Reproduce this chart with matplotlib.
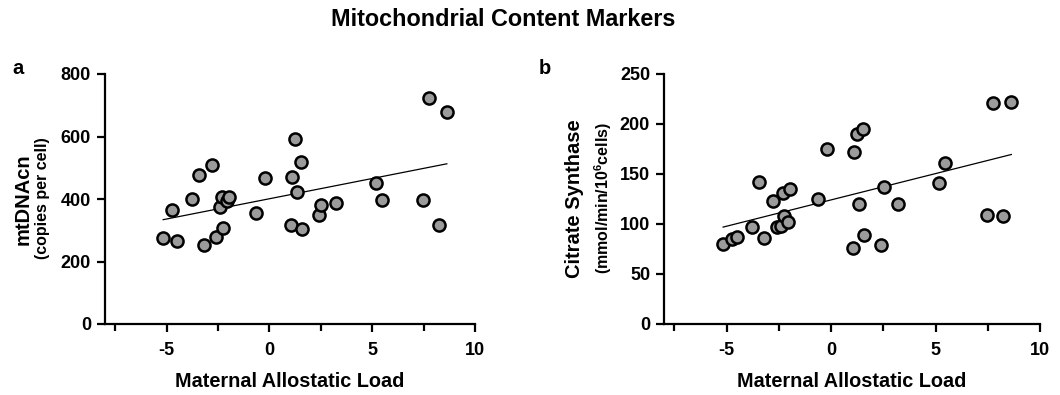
import numpy as np
import matplotlib
matplotlib.use("Agg")
import matplotlib.pyplot as plt
from matplotlib.ticker import MultipleLocator, FixedLocator

plt.rcParams['font.family'] = ['Liberation Sans', 'DejaVu Sans']
plt.rcParams['font.weight'] = 'bold'
plt.rcParams['axes.unicode_minus'] = False
plt.rcParams['mathtext.fontset'] = 'custom'
plt.rcParams['mathtext.bf'] = 'Liberation Sans:bold'
plt.rcParams['mathtext.rm'] = 'Liberation Sans:bold'

# Maternal Allostatic Load (shared x)
allostatic_load = [-5.17, -4.75, -4.50, -3.79, -3.43, -3.20, -2.80, -2.60, -2.40, -2.30,
                   -2.27, -2.08, -1.98, -0.65, -0.22, 1.03, 1.11, 1.22, 1.35, 1.52,
                   1.59, 2.39, 2.53, 3.22, 5.16, 5.46, 7.46, 7.77, 8.25, 8.63]
# mtDNAcn (copies per cell)
mtdnacn = [276, 365, 266, 401, 477, 253, 509, 279, 375, 407,
           306, 395, 406, 354, 468, 317, 470, 591, 422, 517,
           305, 348, 382, 388, 450, 398, 397, 723, 317, 677]
# Citrate synthase (mmol/min/10^6 cells)
citrate_synthase = [79.7, 85.3, 87.3, 96.7, 141.7, 85.7, 123.3, 97.3, 98.0, 131.3,
                    108.3, 102.3, 134.7, 125.0, 174.7, 75.7, 172.3, 189.7, 120.0, 194.7,
                    89.0, 79.0, 136.7, 120.0, 140.7, 160.7, 109.0, 221.3, 108.0, 222.3]

title = "Mitochondrial Content Markers"
xlabel = "Maternal Allostatic Load"
xticks_major = [-5, 0, 5, 10]
xticks_minor = [-7.5, -2.5, 2.5, 7.5]

fig = plt.figure(figsize=(10.6, 3.95), dpi=100)
W, H = 1060, 395

def make_axes(left_px, right_px):
    return fig.add_axes([left_px / W, 1 - 324 / H, (right_px - left_px) / W, (324 - 74) / H])

panels = [
    dict(ax=make_axes(105, 475), y=mtdnacn, ylim=(0, 800), ystep=200,
         lab1="mtDNAcn", lab2="(copies per cell)", lab1_x=23, lab2_x=43,
         letter="a", letter_x=18),
    dict(ax=make_axes(664, 1040), y=citrate_synthase, ylim=(0, 250), ystep=50,
         lab1="Citrate Synthase", lab2=r"(mmol/min/10$^{6}$cells)", lab1_x=575, lab2_x=603,
         letter="b", letter_x=545),
]

x = np.array(allostatic_load)
for p in panels:
    ax = p['ax']
    y = np.array(p['y'])
    ax.scatter(x, y, s=76, facecolor='#9b9b9b', edgecolor='black', linewidths=1.8,
               zorder=3, clip_on=False)
    slope, intercept = np.polyfit(x, y, 1)
    xx = np.array([x.min(), x.max()])
    ax.plot(xx, slope * xx + intercept, color='black', lw=0.9, zorder=2)
    ax.set_xlim(-8, 10)
    ax.set_ylim(*p['ylim'])
    ax.xaxis.set_major_locator(FixedLocator(xticks_major))
    ax.xaxis.set_minor_locator(FixedLocator(xticks_minor))
    ax.yaxis.set_major_locator(MultipleLocator(p['ystep']))
    for s in ['top', 'right']:
        ax.spines[s].set_visible(False)
    for s in ['left', 'bottom']:
        ax.spines[s].set_linewidth(1.6)
    ax.tick_params(axis='both', which='major', length=6, width=1.6, labelsize=13, pad=4)
    ax.tick_params(axis='x', which='minor', length=5, width=1.6)
    ax.tick_params(axis='x', which='major', pad=7)
    for lbl in ax.get_xticklabels() + ax.get_yticklabels():
        lbl.set_fontweight('bold')
    ax.set_xlabel(xlabel, fontsize=14.3, fontweight='bold', labelpad=9)
    fig.text(p['lab1_x'] / W, 1 - 199 / H, p['lab1'], rotation=90, ha='center', va='center',
             fontsize=14.5, fontweight='bold')
    fig.text(p['lab2_x'] / W, 1 - 198 / H, p['lab2'], rotation=90, ha='center', va='center',
             fontsize=11.5, fontweight='bold')
    fig.text(p['letter_x'] / W, 1 - 68 / H, p['letter'], ha='center', va='center',
             fontsize=14.5, fontweight='bold')

fig.text(503 / W, 1 - 19 / H, title, ha='center', va='center', fontsize=16.8, fontweight='bold')

fig.savefig("out.png", dpi=100)
